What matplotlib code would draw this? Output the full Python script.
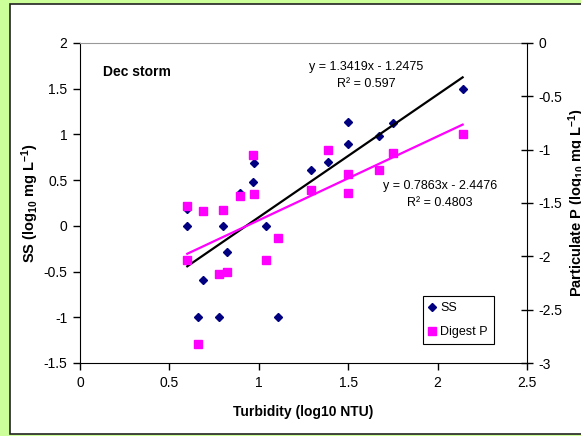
"""
Dec storm: SS and digest P against turbidity (log scales), two y axes.
"""

import numpy as np
import matplotlib
matplotlib.use("Agg")
import matplotlib.pyplot as plt
from matplotlib.lines import Line2D
from matplotlib.patches import Rectangle
from matplotlib.ticker import FuncFormatter, MultipleLocator

plt.rcParams['font.family'] = ['Liberation Sans', 'DejaVu Sans']
plt.rcParams['mathtext.default'] = 'regular'
plt.rcParams['axes.unicode_minus'] = False

# turbidity, log10 NTU (same samples for both series)
turbidez = [0.60, 0.60, 0.66, 0.69, 0.775, 0.80, 0.82, 0.895, 0.965, 0.972,
            1.04, 1.11, 1.29, 1.385, 1.50, 1.50, 1.67, 1.75, 2.14]
ss = [0.18, 0.0, -1.0, -0.59, -1.0, 0.0, -0.29, 0.36, 0.48, 0.69,
      0.0, -1.0, 0.61, 0.70, 0.90, 1.14, 0.98, 1.13, 1.50]
digest_p = [-1.53, -2.03, -2.82, -1.575, -2.165, -1.565, -2.145, -1.43, -1.05, -1.42,
            -2.03, -1.83, -1.38, -1.00, -1.41, -1.23, -1.19, -1.035, -0.855]

# trendlines as printed on the chart
ss_fit = (1.3419, -1.2475, 0.597)
p_fit = (0.7863, -2.4476, 0.4803)

fig = plt.figure(figsize=(5.81, 4.36), dpi=100)
fig.patch.set_facecolor('#CCFF99')
fig.patches.append(Rectangle((10/581, 2/436), 1.0, 430/436, transform=fig.transFigure,
                             facecolor='white', edgecolor='#222222', linewidth=1.2, zorder=-5))

ax = fig.add_axes([80/581, 73/436, 447/581, 320/436])
ax2 = ax.twinx()

xf = np.array([min(turbidez), max(turbidez)])
ax.plot(turbidez, ss, linestyle='none', marker='D', markersize=4.5, color='#000080')
ax.plot(xf, ss_fit[0]*xf + ss_fit[1], color='black', linewidth=1.6)
ax2.plot(turbidez, digest_p, linestyle='none', marker='s', markersize=5.2, color='#FF00FF')
ax2.plot(xf, p_fit[0]*xf + p_fit[1], color='#FF00FF', linewidth=1.6)

fmt = FuncFormatter(lambda v, pos: '%g' % round(v, 2))

ax.set_xlim(0, 2.5)
ax.set_ylim(-1.5, 2)
ax.xaxis.set_major_locator(MultipleLocator(0.5))
ax.yaxis.set_major_locator(MultipleLocator(0.5))
ax.xaxis.set_major_formatter(fmt)
ax.yaxis.set_major_formatter(fmt)
ax2.set_ylim(-3, 0)
ax2.yaxis.set_major_locator(MultipleLocator(0.5))
ax2.yaxis.set_major_formatter(fmt)

ax.tick_params(axis='both', direction='out', length=5, width=1, labelsize=10, pad=4)
ax2.tick_params(axis='y', direction='inout', length=8, width=1, labelsize=10, pad=4)

for s in ['left', 'bottom']:
    ax.spines[s].set_color('black')
ax.spines['right'].set_visible(False)
ax.spines['top'].set_color('#999999')
for s in ['left', 'bottom', 'top']:
    ax2.spines[s].set_visible(False)
ax2.spines['right'].set_color('black')

ax.set_xlabel('Turbidity (log10 NTU)', fontsize=10, fontweight='bold', labelpad=11)
ax.set_ylabel('SS (log$_{10}$ mg L$^{-1}$)', fontsize=10.5, fontweight='bold', labelpad=2)
ax2.set_ylabel('Particulate P (log$_{10}$ mg L$^{-1}$)', fontsize=10.5, fontweight='bold')
ax2.yaxis.set_label_coords(1.088, 0.5)

ax.text(0.052, 0.909, 'Dec storm', transform=ax.transAxes, fontsize=10,
        fontweight='bold', va='center')
ax.text(0.64, 0.926, 'y = %.4fx - %.4f' % (ss_fit[0], -ss_fit[1]), transform=ax.transAxes,
        fontsize=9, ha='center', va='center')
ax.text(0.64, 0.872, 'R² = %g' % ss_fit[2], transform=ax.transAxes,
        fontsize=9, ha='center', va='center')
ax.text(0.805, 0.554, 'y = %.4fx - %.4f' % (p_fit[0], -p_fit[1]), transform=ax.transAxes,
        fontsize=9, ha='center', va='center')
ax.text(0.805, 0.499, 'R² = %g' % p_fit[2], transform=ax.transAxes,
        fontsize=9, ha='center', va='center')

handles = [Line2D([], [], linestyle='none', marker='D', markersize=4.5, color='#000080'),
           Line2D([], [], linestyle='none', marker='s', markersize=5.2, color='#FF00FF')]
leg = ax2.legend(handles, ['SS', 'Digest P'], loc='lower left', bbox_to_anchor=(0.767, 0.059),
                 fontsize=9, frameon=True, fancybox=False, framealpha=1, edgecolor='black',
                 handlelength=0.6, handletextpad=0.35, labelspacing=1.0, borderpad=0.45,
                 borderaxespad=0)
leg.get_frame().set_linewidth(0.8)

plt.savefig('out.png', dpi=100, facecolor=fig.get_facecolor())
plt.close()
